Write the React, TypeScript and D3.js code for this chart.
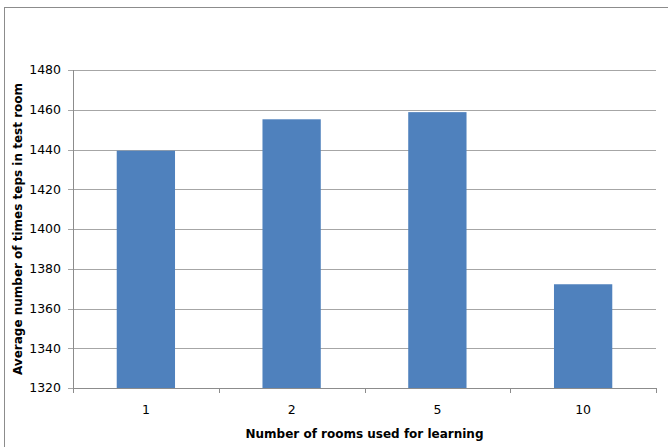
import React from "react";
import * as d3 from "d3";

const categories = ["1", "2", "5", "10"];
const values = [1439.4, 1455.2, 1458.8, 1372.2];
const yTicks = [1320, 1340, 1360, 1380, 1400, 1420, 1440, 1460, 1480];
const xTitle = "Number of rooms used for learning";
const yTitle = "Average number of times teps in test room";

const W = 668;
const H = 447;
const plot = { left: 73, right: 656, top: 70, bottom: 388 };
const font = "Tahoma, 'DejaVu Sans', Verdana, sans-serif";

export default function App() {
  const x = d3
    .scaleBand<string>()
    .domain(categories)
    .range([plot.left, plot.right])
    .paddingInner(0)
    .paddingOuter(0);
  const y = d3.scaleLinear().domain([1320, 1480]).range([plot.bottom, plot.top]);
  const barW = x.bandwidth() * 0.4;
  const bounds = categories.map((c) => x(c)!).concat([plot.right]);

  return (
    <svg
      width={W}
      height={H}
      style={{ position: "absolute", left: 0, top: 0, background: "#fff" }}
    >
      <rect x={4.5} y={7.5} width={700} height={500} fill="#fff" stroke="#8c8c8c" strokeWidth={1} />
      {yTicks.map((t) => (
        <g key={t}>
          <line
            x1={plot.left - 5}
            x2={t === 1320 ? plot.left : plot.right}
            y1={Math.round(y(t)) + 0.5}
            y2={Math.round(y(t)) + 0.5}
            stroke="#a6a6a6"
          />
          <text
            x={plot.left - 12}
            y={y(t)}
            dy="0.35em"
            textAnchor="end"
            fontFamily={font}
            fontSize={12.5}
            fill="#000"
          >
            {t}
          </text>
        </g>
      ))}
      {categories.map((c, i) => (
        <rect
          key={c}
          x={x(c)! + (x.bandwidth() - barW) / 2}
          y={y(values[i])}
          width={barW}
          height={y(1320) - y(values[i])}
          fill="#4f81bd"
        />
      ))}
      <line x1={plot.left + 0.5} x2={plot.left + 0.5} y1={plot.top} y2={plot.bottom} stroke="#8c8c8c" />
      <line
        x1={plot.left}
        x2={plot.right}
        y1={plot.bottom + 0.5}
        y2={plot.bottom + 0.5}
        stroke="#8c8c8c"
      />
      {bounds.map((b, i) => (
        <line
          key={i}
          x1={Math.round(b) + 0.5}
          x2={Math.round(b) + 0.5}
          y1={plot.bottom}
          y2={plot.bottom + 5}
          stroke="#8c8c8c"
        />
      ))}
      {categories.map((c) => (
        <text
          key={c}
          x={x(c)! + x.bandwidth() / 2}
          y={410}
          dy="0.35em"
          textAnchor="middle"
          fontFamily={font}
          fontSize={12.5}
          fill="#000"
        >
          {c}
        </text>
      ))}
      <text
        x={(plot.left + plot.right) / 2}
        y={434}
        dy="0.35em"
        textAnchor="middle"
        fontFamily={font}
        fontSize={12}
        fontWeight="bold"
        fill="#000"
      >
        {xTitle}
      </text>
      <text
        transform={`translate(18, ${(plot.top + plot.bottom) / 2}) rotate(-90)`}
        dy="0.35em"
        textAnchor="middle"
        fontFamily={font}
        fontSize={12}
        fontWeight="bold"
        fill="#000"
      >
        {yTitle}
      </text>
    </svg>
  );
}
